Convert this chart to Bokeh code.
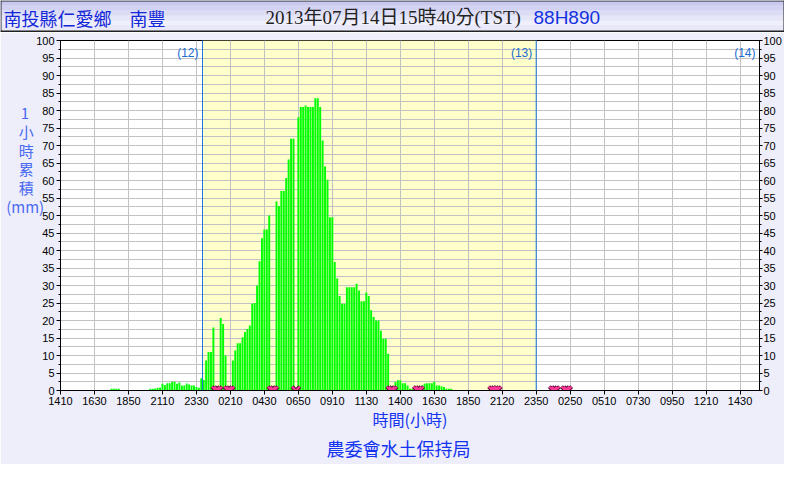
from bokeh.plotting import figure
from bokeh.layouts import column
from bokeh.models import (Range1d, LinearAxis, FixedTicker, SingleIntervalTicker,
                          BoxAnnotation, Span, Label, ColumnDataSource, Title)
from bokeh.core.properties import value
from bokeh.embed import file_html
from bokeh.resources import INLINE

# ---------------- data ----------------
station = "南投縣仁愛鄉　南豐"
stamp = "2013年07月14日15時40分(TST)"
station_id = "88H890"
y_title_lines = ["1", "小", "時", "累", "積", "(mm)"]
x_title = "時間(小時)"
agency = "農委會水土保持局"
day_labels = ["(12)", "(13)", "(14)"]
day_bounds = [58.5, 196, 288]          # day boundaries (sample index)
tick_pos = list(range(0, 281, 14))
tick_labels = ["1410", "1630", "1850", "2110", "2330", "0210", "0430", "0650",
               "0910", "1130", "1400", "1630", "1850", "2120", "2350", "0250",
               "0510", "0730", "0950", "1210", "1430"]

# 1-hour accumulated rainfall (mm), one value per 10-minute sample (288 samples)
rain = (
    [0] * 21 +
    [0.5, 0.5, 0.5, 0.5] +
    [0] * 12 +
    [0.5, 0.5, 0.6, 0.8, 0.8, 1.9, 1.6, 2.1, 2.1, 2.5, 2.5, 1.9, 2.3, 1.4, 1.4,
     2.0, 1.7, 1.4, 1.4, 1.0, 0.8, 3.5,                                 # 37-58
     3.0, 8.6, 11, 11, 18, 0, 0, 20.7, 19, 10, 0, 0, 8.6, 11.4, 13.5,   # 59-73
     13.5, 15.2, 16.7, 17.6, 18.6, 24.8, 25, 30, 36.9, 43.5, 46, 46,    # 74-85
     50, 0, 0, 54, 52.7, 57, 57, 60.7, 66, 71.9, 71.9, 0, 78.1,         # 86-98
     81, 81, 81.4, 81, 81, 81, 83.5, 83.5, 81, 71.4, 64, 60.2,          # 99-110
     49.5, 49.5, 36.7, 32, 27, 24.8, 24.8, 29.5, 29.5, 29.5, 29.5,      # 111-121
     30.5, 28.6, 25.5, 25.5, 28, 27, 22.9, 21, 20, 20, 17.1, 14.8,      # 122-133
     14.8, 10.5, 0, 0, 2.4, 2.9, 2.9, 2.1, 2.1, 1.4, 0.5, 0.5, 0, 0,    # 134-147
     0, 1.4, 1.9, 2.1, 2.1, 2.1, 2.5, 1.4, 1.4, 1.2, 1.0, 0.5, 0.5,     # 148-160
     0.5] +
    [0] * 126
)
missing = [64, 65, 69, 70, 87, 88, 97, 136, 137, 147, 148,
           178, 179, 180, 203, 204, 208, 209]

N = len(rain)
W = 784
BG = "#EEEEFB"
CJK = "Noto Sans CJK TC"
SERIF = "'Liberation Serif', 'Noto Sans CJK TC'"
SANS_CJK = "'Liberation Sans', 'Noto Sans CJK TC'"
TICK_FONT = "Liberation Sans"

# ---------------- title bar ----------------
tb = figure(width=W, height=32, x_range=Range1d(0, W), y_range=Range1d(0, 32),
            output_backend="svg", toolbar_location=None, min_border=0,
            x_axis_location=None, y_axis_location=None,
            background_fill_color="#E4E4F8", border_fill_color="#E4E4F8",
            outline_line_color=None)
if "frame_align" in tb.properties():
    tb.frame_align = False
tb.grid.visible = False
band_cols = ["#C9C9EE", "#D2D2F2", "#DCDCF5", "#E6E6F9", "#F0F0FC", "#E8E8F9"]
band_h = 30 / len(band_cols)
tb.quad(left=[0] * len(band_cols), right=[W] * len(band_cols),
        top=[32 - i * band_h for i in range(len(band_cols))],
        bottom=[32 - (i + 1) * band_h for i in range(len(band_cols))],
        fill_color=band_cols, line_color=None)
tb.segment(x0=[0, 0, 0.5, W - 0.5], y0=[1, 31.5, 0, 0],
           x1=[W, W, 0.5, W - 0.5], y1=[1, 31.5, 32, 32],
           line_color="#222222", line_width=[2, 1, 1, 1])
tb.text(x=[3], y=[15], text=[station], text_color="#1428D8",
        text_font=value(CJK), text_font_size="18px",
        text_baseline="middle", text_align="left")
tb.text(x=[265], y=[15], text=[stamp], text_color="#222222",
        text_font=value(SERIF), text_font_size="19px",
        text_baseline="middle", text_align="left")
tb.text(x=[533], y=[15], text=[station_id], text_color="#1432E0",
        text_font=value(TICK_FONT), text_font_size="19px",
        text_baseline="middle", text_align="left")

# ---------------- main chart ----------------
p = figure(width=W, height=432, x_range=Range1d(0, N), y_range=Range1d(0, 100),
           output_backend="svg", toolbar_location=None,
           min_border_left=60, min_border_right=22, min_border_top=8,
           min_border_bottom=74, background_fill_color="white",
           border_fill_color=BG, outline_line_color="black",
           outline_line_width=1)

p.xaxis.ticker = FixedTicker(ticks=tick_pos)
p.xaxis.major_label_overrides = {t: l for t, l in zip(tick_pos, tick_labels)}
p.xaxis.minor_tick_line_color = None
p.xaxis.major_tick_out = 4
p.xaxis.major_tick_in = 0
p.xaxis.major_label_standoff = 2
p.xaxis.axis_label = x_title
p.xaxis.axis_label_standoff = -1
p.xaxis.axis_label_text_font = CJK
p.xaxis.axis_label_text_font_size = "16px"
p.xaxis.axis_label_text_font_style = "normal"
p.xaxis.axis_label_text_color = "#1434F0"

# stacked y title: short lines padded so that they sit centred over "(mm)"
yl = p.yaxis[0]
yl.ticker = SingleIntervalTicker(interval=5, num_minor_ticks=2)
yl.major_tick_out = 4
yl.major_tick_in = 0
yl.minor_tick_out = 2
yl.minor_tick_in = 0
yl.major_label_standoff = 2
yl.axis_label = "\n".join(
    [y_title_lines[0] + "\u2002\u2002"] +
    [c + "\u2002\u2009" for c in y_title_lines[1:5]] +
    [y_title_lines[5]]) + "\n" * 6
yl.axis_label_orientation = "horizontal"
yl.axis_label_standoff = -11
yl.axis_label_text_font = CJK
yl.axis_label_text_font_size = "15px"
yl.axis_label_text_font_style = "normal"
yl.axis_label_text_color = "#4A6AF0"
yl.axis_label_text_line_height = 0.89

r_axis = LinearAxis(ticker=SingleIntervalTicker(interval=5, num_minor_ticks=2),
                    major_tick_out=3, major_tick_in=0, minor_tick_out=2,
                    minor_tick_in=0, major_label_standoff=1)
p.add_layout(r_axis, "right")
for ax in p.xaxis + p.yaxis:
    ax.axis_line_color = "black"
    ax.major_tick_line_color = "black"
    ax.major_label_text_font = TICK_FONT
    ax.major_label_text_font_size = "11px"
    ax.major_label_text_color = "black"
for ax in p.yaxis:
    ax.minor_tick_line_color = "black"

p.xgrid.ticker = FixedTicker(ticks=tick_pos)
p.xgrid.grid_line_color = "#C2C2C2"
p.ygrid.ticker = SingleIntervalTicker(interval=5, num_minor_ticks=2)
p.ygrid.grid_line_color = "#C2C2C2"
p.ygrid.minor_grid_line_color = "#C2C2C2"

# day-13 background
p.add_layout(BoxAnnotation(left=day_bounds[0], right=day_bounds[1],
                           fill_color="#FFFFCC", fill_alpha=1.0,
                           line_color=None, level="image"))

# bars
src = ColumnDataSource(dict(x=list(range(N)), top=rain))
p.vbar(x="x", top="top", width=0.8, source=src, fill_color="#00FF00",
       line_color=None)

# day boundary lines
for b in day_bounds[:2]:
    p.add_layout(Span(location=b, dimension="height", line_color="#1A78E0",
                      line_width=1))

# missing-data markers
msrc = ColumnDataSource(dict(x=missing, y=[0] * len(missing)))
p.scatter("x", "y", source=msrc, marker="x", size=11, line_color="#5A0A30",
          line_width=4)
p.scatter("x", "y", source=msrc, marker="x", size=11, line_color="#FF3A9A",
          line_width=2)

# day labels
PXX = 702 / N
PXY = 3.5
for lab, b in zip(day_labels, day_bounds):
    p.add_layout(Label(x=b - 4 / PXX, y=100 - 12 / PXY, text=lab,
                       text_align="right", text_baseline="middle",
                       text_font=TICK_FONT, text_font_size="12px",
                       text_color="#1A6CD0"))

# agency line
p.add_layout(Title(text=agency, align="left", offset=266, text_font=SANS_CJK,
                   text_font_size="18px", text_font_style="normal",
                   text_color="#1434F0", standoff=9), "below")

layout = column(tb, p, spacing=0)
open("out.html", "w").write(file_html(layout, INLINE))
